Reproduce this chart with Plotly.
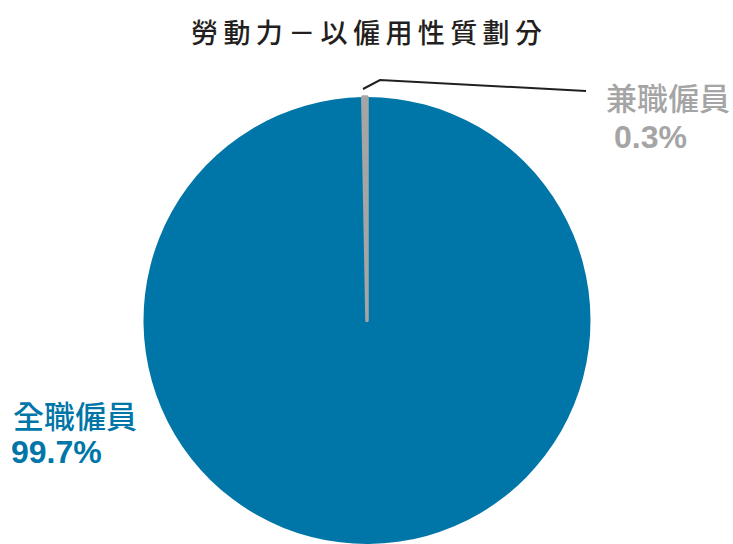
import plotly.graph_objects as go

labels = ["全職僱員", "兼職僱員"]
values = [99.7, 0.3]
pct_text = ["99.7%", "0.3%"]
colors = ["#0076A8", "#A5A5A5"]
title_text = "勞動力－以僱用性質劃分"

W, H = 733, 544

def px(x):
    return x / W

def py(y):
    return 1 - y / H

fig = go.Figure()
fig.add_trace(go.Pie(
    labels=labels,
    values=values,
    sort=False,
    direction="clockwise",
    rotation=0,
    marker=dict(colors=colors, line=dict(color=colors, width=[0, 3.5])),
    textinfo="none",
    hoverinfo="label+percent",
    showlegend=False,
    domain=dict(x=[px(367 - 225), px(367 + 225)], y=[0, py(97)]),
))

cjk = "Noto Sans CJK TC"
num = "Liberation Sans"
spaced_title = "\u2009".join(list(title_text))

annotations = [
    dict(text=spaced_title, x=0.5, y=py(31), xref="paper", yref="paper",
         showarrow=False, xanchor="center", yanchor="middle",
         font=dict(family=cjk, size=27, color="#231F20", weight=500)),
    dict(text=labels[1], x=px(604), y=py(96), xref="paper", yref="paper",
         showarrow=False, xanchor="left", yanchor="middle",
         font=dict(family=cjk, size=31, color=colors[1], weight=500)),
    dict(text="<b>" + pct_text[1] + "</b>", x=px(612), y=py(137), xref="paper", yref="paper",
         showarrow=False, xanchor="left", yanchor="middle",
         font=dict(family=num, size=32, color=colors[1])),
    dict(text=labels[0], x=px(11), y=py(414), xref="paper", yref="paper",
         showarrow=False, xanchor="left", yanchor="middle",
         font=dict(family=cjk, size=31, color=colors[0], weight=500)),
    dict(text="<b>" + pct_text[0] + "</b>", x=px(9), y=py(452), xref="paper", yref="paper",
         showarrow=False, xanchor="left", yanchor="middle",
         font=dict(family=num, size=32, color=colors[0])),
]

shapes = [
    dict(type="path", xref="paper", yref="paper",
         path=f"M {px(363)},{py(89)} L {px(380)},{py(80)} L {px(586)},{py(91)}",
         line=dict(color="#231F20", width=2)),
]

fig.update_layout(
    width=W, height=H,
    margin=dict(l=0, r=0, t=0, b=0),
    paper_bgcolor="white",
    plot_bgcolor="white",
    annotations=annotations,
    shapes=shapes,
)

fig.write_html("out.html", config={"displayModeBar": False},
               post_script="document.body.style.margin='0';")
